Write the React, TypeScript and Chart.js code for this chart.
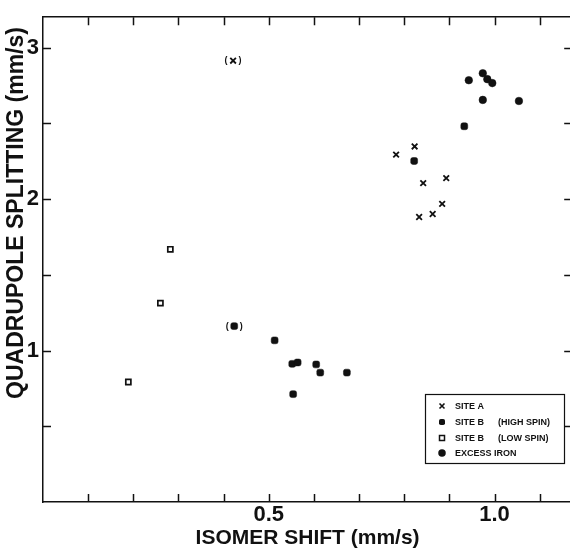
import { useEffect, useRef } from 'react';
import { Chart, registerables } from 'chart.js';

Chart.register(...registerables);

// ---- data (isomer shift mm/s, quadrupole splitting mm/s) ----
const siteAX = [0.823, 0.782, 0.893, 0.842, 0.884, 0.863, 0.833, 0.421];
const siteAY = [2.347, 2.293, 2.138, 2.105, 1.968, 1.901, 1.881, 2.913];
const siteABracketed = [false, false, false, false, false, false, false, true];

const highSpinX = [0.4235, 0.513, 0.552, 0.564, 0.605, 0.614, 0.673, 0.554, 0.933, 0.822];
const highSpinY = [1.161, 1.067, 0.912, 0.921, 0.908, 0.854, 0.854, 0.712, 2.48, 2.251];
const highSpinBracketed = [true, false, false, false, false, false, false, false, false, false];

const lowSpinX = [0.282, 0.26, 0.189];
const lowSpinY = [1.668, 1.313, 0.792];

const excessX = [0.943, 0.974, 0.984, 0.995, 0.974, 1.054];
const excessY = [2.784, 2.83, 2.791, 2.765, 2.654, 2.647];

const legendLabels = ['SITE A', 'SITE B|(HIGH SPIN)', 'SITE B|(LOW SPIN)', 'EXCESS IRON'];
const xTickLabels = [
  { value: 0.5, text: '0.5' },
  { value: 1.0, text: '1.0' },
];
const yTickLabels = [
  { value: 1, text: '1' },
  { value: 2, text: '2' },
  { value: 3, text: '3' },
];
const xTitle = 'ISOMER SHIFT (mm/s)';
const yTitle = 'QUADRUPOLE SPLITTING (mm/s)';

const FONT = '"Liberation Sans", Arial, sans-serif';
const INK = '#111';

function toPoints(xs: number[], ys: number[]) {
  return xs.map((x, i) => ({ x, y: ys[i] }));
}

function drawMarker(
  ctx: CanvasRenderingContext2D,
  style: string,
  x: number,
  y: number,
  size: number,
  filled: boolean,
  lw: number
) {
  ctx.save();
  ctx.strokeStyle = INK;
  ctx.fillStyle = filled ? INK : '#fff';
  ctx.lineWidth = lw;
  const h = size / 2;
  ctx.beginPath();
  if (style === 'crossRot') {
    ctx.moveTo(x - h, y - h);
    ctx.lineTo(x + h, y + h);
    ctx.moveTo(x + h, y - h);
    ctx.lineTo(x - h, y + h);
    ctx.stroke();
  } else if (style === 'circle') {
    ctx.arc(x, y, h, 0, Math.PI * 2);
    ctx.fill();
  } else if (style === 'rectRounded') {
    (ctx as any).roundRect(x - h, y - h, size, size, size * 0.3);
    ctx.fill();
  } else {
    ctx.rect(x - h, y - h, size, size);
    ctx.fill();
    ctx.stroke();
  }
  ctx.restore();
}

const inwardTicks = {
  id: 'inwardTicks',
  afterDraw(chart: any) {
    const { ctx, chartArea } = chart;
    const xs = chart.scales.x;
    const ys = chart.scales.y;
    const len = 8;
    ctx.save();
    ctx.strokeStyle = INK;
    ctx.lineWidth = 1.5;
    ctx.beginPath();
    xs.ticks.forEach((t: any) => {
      if (t.value <= xs.min + 1e-6) return;
      const px = Math.round(xs.getPixelForValue(t.value)) + 0.5;
      ctx.moveTo(px, chartArea.bottom);
      ctx.lineTo(px, chartArea.bottom - len);
      ctx.moveTo(px, chartArea.top);
      ctx.lineTo(px, chartArea.top + len);
    });
    ys.ticks.forEach((t: any) => {
      if (t.value <= ys.min + 1e-6) return;
      const py = Math.round(ys.getPixelForValue(t.value)) + 0.5;
      ctx.moveTo(chartArea.left, py);
      ctx.lineTo(chartArea.left + len, py);
      ctx.moveTo(chartArea.right, py);
      ctx.lineTo(chartArea.right - len, py);
    });
    ctx.stroke();
    ctx.restore();
  },
};

const brackets = {
  id: 'brackets',
  afterDatasetsDraw(chart: any) {
    const { ctx } = chart;
    ctx.save();
    ctx.fillStyle = INK;
    ctx.font = `bold 9px ${FONT}`;
    ctx.textAlign = 'center';
    ctx.textBaseline = 'middle';
    chart.data.datasets.forEach((ds: any, di: number) => {
      if (!ds.bracketed) return;
      const meta = chart.getDatasetMeta(di);
      meta.data.forEach((el: any, i: number) => {
        if (!ds.bracketed[i]) return;
        ctx.fillText('(', el.x - 7, el.y);
        ctx.fillText(')', el.x + 7, el.y);
      });
    });
    ctx.restore();
  },
};

const yTitlePlugin = {
  id: 'yTitlePlugin',
  afterDraw(chart: any) {
    const { ctx } = chart;
    ctx.save();
    ctx.fillStyle = INK;
    ctx.font = `bold 23px ${FONT}`;
    ctx.textAlign = 'center';
    ctx.textBaseline = 'middle';
    ctx.translate(17, 213);
    ctx.rotate(-Math.PI / 2);
    ctx.fillText(yTitle, 0, 0);
    ctx.restore();
  },
};

const boxLegend = {
  id: 'boxLegend',
  afterDraw(chart: any) {
    const { ctx } = chart;
    const bx = 425, by = 394, bw = 139, bh = 69;
    ctx.save();
    ctx.strokeStyle = INK;
    ctx.lineWidth = 1.2;
    ctx.strokeRect(bx + 0.5, by + 0.5, bw, bh);
    const rows = [406, 422, 438, 453];
    const markerCfg = [
      { style: 'crossRot', size: 5, filled: false, lw: 1.6 },
      { style: 'rectRounded', size: 6, filled: true, lw: 1 },
      { style: 'rect', size: 5, filled: false, lw: 1.5 },
      { style: 'circle', size: 7.5, filled: true, lw: 1 },
    ];
    ctx.font = `bold 9px ${FONT}`;
    ctx.fillStyle = INK;
    ctx.textBaseline = 'middle';
    ctx.textAlign = 'left';
    legendLabels.forEach((lab, i) => {
      const m = markerCfg[i];
      drawMarker(ctx, m.style, 442, rows[i], m.size, m.filled, m.lw);
      const parts = lab.split('|');
      ctx.fillStyle = INK;
      ctx.fillText(parts[0], 455, rows[i] + 0.5);
      if (parts[1]) ctx.fillText(parts[1], 498, rows[i] + 0.5);
    });
    ctx.restore();
  },
};

export default function App() {
  const ref = useRef<HTMLCanvasElement | null>(null);

  useEffect(() => {
    if (!ref.current) return;
    const near = (a: number, b: number) => Math.abs(a - b) < 1e-6;
    const chart = new Chart(ref.current, {
      type: 'scatter',
      data: {
        datasets: [
          {
            label: 'SITE A',
            data: toPoints(siteAX, siteAY),
            pointStyle: 'crossRot',
            pointRadius: 4,
            borderWidth: 1.8,
            borderColor: INK,
            backgroundColor: INK,
            bracketed: siteABracketed,
          } as any,
          {
            label: 'SITE B (HIGH SPIN)',
            data: toPoints(highSpinX, highSpinY),
            pointStyle: 'rectRounded',
            pointRadius: 4,
            borderWidth: 0.5,
            borderColor: INK,
            backgroundColor: INK,
            bracketed: highSpinBracketed,
          } as any,
          {
            label: 'SITE B (LOW SPIN)',
            data: toPoints(lowSpinX, lowSpinY),
            pointStyle: 'rect',
            pointRadius: 3.6,
            borderWidth: 1.7,
            borderColor: INK,
            backgroundColor: '#fff',
          },
          {
            label: 'EXCESS IRON',
            data: toPoints(excessX, excessY),
            pointStyle: 'circle',
            pointRadius: 3.8,
            borderWidth: 0.5,
            borderColor: INK,
            backgroundColor: INK,
          },
        ],
      },
      options: {
        animation: false,
        responsive: true,
        maintainAspectRatio: false,
        layout: { padding: 0 },
        plugins: {
          legend: { display: false },
          tooltip: { enabled: false },
        },
        scales: {
          x: {
            type: 'linear',
            position: 'bottom',
            min: 0,
            max: 1.172,
            afterFit: (s: any) => { s.height = 49; },
            grid: { display: false, drawTicks: false, tickLength: 0 },
            border: { display: true, color: INK, width: 1.5 },
            ticks: {
              stepSize: 0.1,
              includeBounds: false,
              autoSkip: false,
              maxRotation: 0,
              padding: 0,
              color: INK,
              font: { family: FONT, size: 22, weight: 'bold' },
              callback: (v: any) => {
                const f = xTickLabels.find((t) => near(t.value, Number(v)));
                return f ? f.text : '';
              },
            },
            title: {
              display: true,
              text: xTitle,
              color: INK,
              padding: { top: 0, bottom: 0 },
              font: { family: FONT, size: 21, weight: 'bold' },
            },
          },
          xTop: {
            type: 'linear',
            position: 'top',
            min: 0,
            max: 1.172,
            afterFit: (s: any) => { s.height = 12; },
            grid: { display: false, drawTicks: false, tickLength: 0 },
            border: { display: true, color: INK, width: 1.5 },
            ticks: { display: false },
          },
          y: {
            type: 'linear',
            position: 'left',
            min: 0,
            max: 3.2,
            afterFit: (s: any) => { s.width = 43; },
            grid: { display: false, drawTicks: false, tickLength: 0 },
            border: { display: true, color: INK, width: 1.5 },
            ticks: {
              stepSize: 0.5,
              includeBounds: false,
              autoSkip: false,
              padding: 4,
              color: INK,
              font: { family: FONT, size: 22, weight: 'bold' },
              callback: (v: any) => {
                const f = yTickLabels.find((t) => near(t.value, Number(v)));
                return f ? f.text : '';
              },
            },
          },
          yRight: {
            type: 'linear',
            position: 'right',
            min: 0,
            max: 3.2,
            afterFit: (s: any) => { s.width = 3; },
            grid: { display: false, drawTicks: false, tickLength: 0 },
            border: { display: true, color: INK, width: 1.5 },
            ticks: { display: false },
          },
        },
      } as any,
      plugins: [inwardTicks, brackets, yTitlePlugin, boxLegend],
    });
    return () => chart.destroy();
  }, []);

  return (
    <div style={{ position: 'fixed', left: 0, top: 0, width: 570, height: 551, overflow: 'hidden', background: '#fff' }}>
      <div style={{ position: 'absolute', left: 0, top: 0, width: 578, height: 551 }}>
        <canvas ref={ref} />
      </div>
    </div>
  );
}
